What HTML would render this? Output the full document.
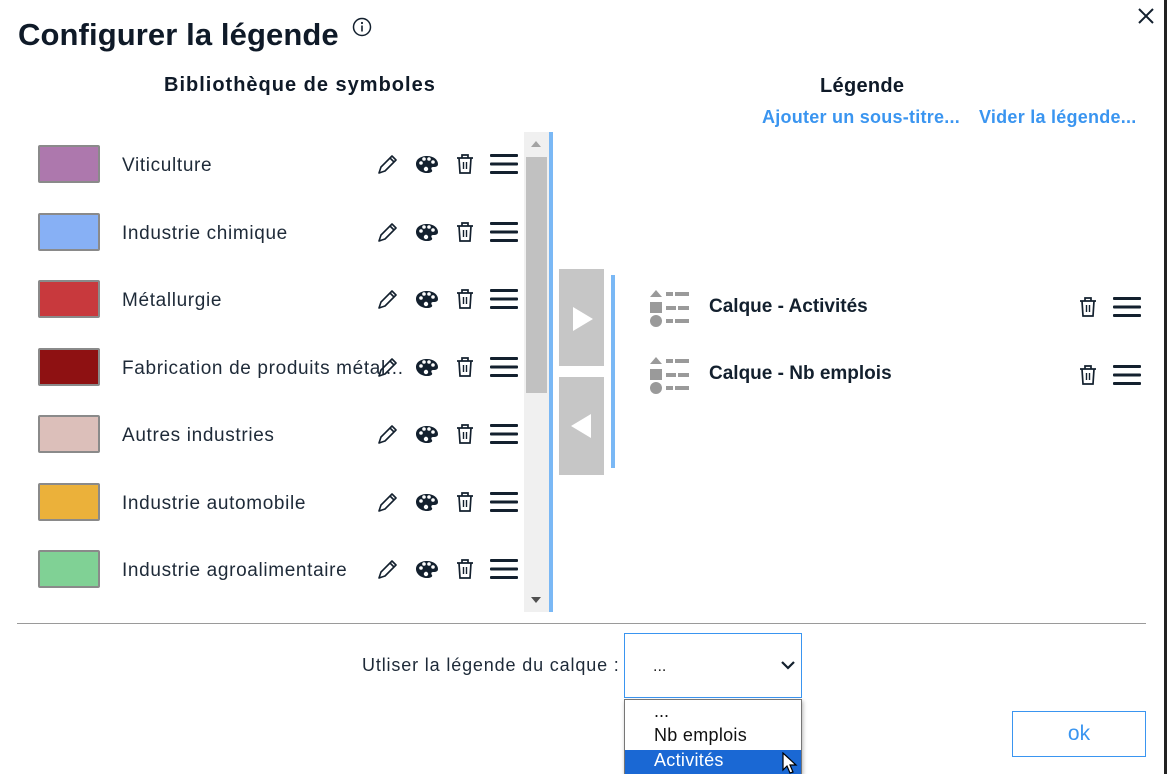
<!DOCTYPE html>
<html><head><meta charset="utf-8"><style>
*{margin:0;padding:0;box-sizing:border-box}
body{width:1167px;height:774px;background:#fff;position:relative;overflow:hidden;font-family:"Liberation Sans",sans-serif;color:#13202e}
.a{position:absolute}
.sw{position:absolute;left:38px;width:62px;height:38px;border:2px solid #8a8a8a;border-radius:2px}
.lbl{position:absolute;left:122px;font-size:19px;color:#1e2a38;white-space:nowrap;line-height:22px;letter-spacing:0.65px}
svg{position:absolute}
</style></head><body>
<div class="a" style="left:1164px;top:0;width:3px;height:774px;background:#222"></div>
<div class="a" style="left:18px;top:17px;font-size:31px;font-weight:bold;color:#0f1a28;letter-spacing:0.1px">Configurer la légende</div>
<svg style="left:352px;top:17px" width="20" height="20" viewBox="0 0 20 20"><circle cx="10" cy="10" r="8.5" fill="none" stroke="#13202e" stroke-width="1.5"/><rect x="9.2" y="8.5" width="1.6" height="6" fill="#13202e"/><circle cx="10" cy="6" r="1.1" fill="#13202e"/></svg>
<svg style="left:1137px;top:7px" width="18" height="18" viewBox="0 0 18 18"><path d="M2 2L16 16M16 2L2 16" stroke="#13202e" stroke-width="2"/></svg>
<div class="a" style="left:164px;top:74px;font-size:20px;font-weight:bold;color:#0f1a28;letter-spacing:1px">Bibliothèque de symboles</div>
<div class="a" style="left:820px;top:75px;font-size:20px;font-weight:bold;color:#0f1a28;letter-spacing:0.3px">Légende</div>
<div class="a" style="left:762px;top:107px;font-size:18px;font-weight:bold;color:#3a95f0;letter-spacing:0.25px">Ajouter un sous-titre...</div>
<div class="a" style="left:979px;top:107px;font-size:18px;font-weight:bold;color:#3a95f0;letter-spacing:0.25px">Vider la légende...</div>

<div class="sw" style="top:145px;background:#ad78ad"></div><div class="lbl" style="top:155px">Viticulture</div>
<div class="sw" style="top:213px;background:#87b0f5"></div><div class="lbl" style="top:223px">Industrie chimique</div>
<div class="sw" style="top:280px;background:#c8393d"></div><div class="lbl" style="top:290px">Métallurgie</div>
<div class="sw" style="top:348px;background:#8e1112"></div><div class="lbl" style="top:358px">Fabrication de produits métal...</div>
<div class="sw" style="top:415px;background:#dcbfba"></div><div class="lbl" style="top:425px">Autres industries</div>
<div class="sw" style="top:483px;background:#ebb13a"></div><div class="lbl" style="top:493px">Industrie automobile</div>
<div class="sw" style="top:550px;background:#80d195"></div><div class="lbl" style="top:560px">Industrie agroalimentaire</div>

<svg style="left:0;top:0" width="560" height="620">
<defs>
<g id="ic">
<path d="M-8 9 L-6 3 L5 -8 L9 -4 L-2 7 Z M3 -6 L7 -2" fill="none" stroke="#13202e" stroke-width="1.6" stroke-linejoin="round"/>
<g transform="translate(40,0)"><path d="M0 -8 C7 -8 11 -4 11 0 C11 3 8 3 6 3 C4 3 4 5 5 6 C6 8 3 9 0 9 C-6 9 -11 5 -11 0 C-11 -5 -6 -8 0 -8Z" fill="#13202e"/><circle cx="-6" cy="-1" r="1.8" fill="#fff"/><circle cx="-3" cy="-5" r="1.8" fill="#fff"/><circle cx="2" cy="-5" r="1.8" fill="#fff"/><circle cx="6" cy="-2" r="1.8" fill="#fff"/><circle cx="-1" cy="5" r="2.2" fill="#fff"/></g>
<g transform="translate(78,0)"><path d="M-8 -6 H8 M-3 -6 V-9 H3 V-6 M-6 -6 L-5 9 H5 L6 -6" fill="none" stroke="#13202e" stroke-width="1.7"/><path d="M-1.5 -2 V5 M1.5 -2 V5" stroke="#13202e" stroke-width="1.4"/></g>
<g transform="translate(103,0)" fill="#13202e"><rect x="0" y="-10" width="28" height="3" rx="1"/><rect x="0" y="-1.5" width="28" height="3" rx="1"/><rect x="0" y="7" width="28" height="3" rx="1"/></g>
</g>
</defs>
<use href="#ic" x="387" y="164"/><use href="#ic" x="387" y="232"/><use href="#ic" x="387" y="299"/><use href="#ic" x="387" y="367"/><use href="#ic" x="387" y="434"/><use href="#ic" x="387" y="502"/><use href="#ic" x="387" y="569"/>
</svg>

<div class="a" style="left:524px;top:132px;width:25px;height:480px;background:#f0f0f0"></div>
<div class="a" style="left:526px;top:157px;width:21px;height:236px;background:#c1c1c1"></div>
<svg style="left:530px;top:140px" width="12" height="8"><path d="M1 7L6 1L11 7Z" fill="#a3a3a3"/></svg>
<svg style="left:530px;top:596px" width="12" height="8"><path d="M1 1L6 7L11 1Z" fill="#505050"/></svg>
<div class="a" style="left:549px;top:132px;width:4px;height:480px;background:#7ab8f5"></div>

<div class="a" style="left:559px;top:269px;width:45px;height:97px;background:#c6c6c6"></div>
<svg style="left:571px;top:306px" width="24" height="26"><path d="M2 1L22 13L2 25Z" fill="#fff"/></svg>
<div class="a" style="left:559px;top:377px;width:45px;height:98px;background:#c6c6c6"></div>
<svg style="left:569px;top:413px" width="24" height="26"><path d="M22 1L2 13L22 25Z" fill="#fff"/></svg>
<div class="a" style="left:611px;top:275px;width:4px;height:193px;background:#7ab8f5"></div>

<svg style="left:0;top:0" width="1167" height="420">
<defs><g id="lg" fill="#9a9a9a">
<path d="M0 -10 L12 -10 L6 -17Z"/>
<rect x="16" y="-15" width="7" height="4"/><rect x="25" y="-15" width="14" height="4"/>
<rect x="0" y="-5" width="12" height="11"/>
<rect x="16" y="-1" width="10" height="4"/><rect x="28" y="-1" width="11" height="4"/>
<circle cx="6" cy="14" r="6"/>
<rect x="16" y="12" width="7" height="4"/><rect x="25" y="12" width="14" height="4"/>
</g></defs>
<use href="#lg" x="650" y="307"/><use href="#lg" x="650" y="374"/>
<g transform="translate(1088,307)"><path d="M-8 -6 H8 M-3 -6 V-9 H3 V-6 M-6 -6 L-5 9 H5 L6 -6" fill="none" stroke="#13202e" stroke-width="1.7"/><path d="M-1.5 -2 V5 M1.5 -2 V5" stroke="#13202e" stroke-width="1.4"/></g>
<g transform="translate(1088,375)"><path d="M-8 -6 H8 M-3 -6 V-9 H3 V-6 M-6 -6 L-5 9 H5 L6 -6" fill="none" stroke="#13202e" stroke-width="1.7"/><path d="M-1.5 -2 V5 M1.5 -2 V5" stroke="#13202e" stroke-width="1.4"/></g>
<g fill="#13202e"><rect x="1113" y="297" width="28" height="3" rx="1"/><rect x="1113" y="305.5" width="28" height="3" rx="1"/><rect x="1113" y="314" width="28" height="3" rx="1"/>
<rect x="1113" y="365" width="28" height="3" rx="1"/><rect x="1113" y="373.5" width="28" height="3" rx="1"/><rect x="1113" y="382" width="28" height="3" rx="1"/></g>
</svg>
<div class="a" style="left:709px;top:296px;font-size:19px;font-weight:bold;color:#13202e">Calque - Activités</div>
<div class="a" style="left:709px;top:363px;font-size:19px;font-weight:bold;color:#13202e">Calque - Nb emplois</div>

<div class="a" style="left:17px;top:623px;width:1129px;height:1px;background:#9a9a9a"></div>
<div class="a" style="left:362px;top:655px;font-size:18px;color:#1e2a38;letter-spacing:0.85px">Utliser la légende du calque :</div>
<div class="a" style="left:624px;top:633px;width:178px;height:65px;border:1px solid #3a95f0"></div>
<div class="a" style="left:653px;top:658px;font-size:16px;color:#222">...</div>
<svg style="left:780px;top:659px" width="16" height="12"><path d="M2 3L8 9L14 3" fill="none" stroke="#13202e" stroke-width="2.2"/></svg>
<div class="a" style="left:624px;top:699px;width:178px;height:75px;border:1px solid #767676;background:#fff;box-shadow:1px 2px 4px rgba(0,0,0,.3)"></div>
<div class="a" style="left:654px;top:701px;font-size:18px;color:#111">...</div>
<div class="a" style="left:654px;top:725px;font-size:18px;color:#111;letter-spacing:0.3px">Nb emplois</div>
<div class="a" style="left:625px;top:750px;width:176px;height:24px;background:#1a68d4"></div>
<div class="a" style="left:654px;top:750px;font-size:18px;color:#fff;letter-spacing:0.3px">Activités</div>
<svg style="left:782px;top:752px" width="20" height="22"><path d="M1 1L1 18L5 14L8 21L11 20L8 13L14 13Z" fill="#fff" stroke="#000" stroke-width="1.2"/></svg>
<div class="a" style="left:1012px;top:711px;width:134px;height:46px;border:1px solid #3a95f0;text-align:center;line-height:44px;font-size:21px;color:#3a95f0">ok</div>
</body></html>
